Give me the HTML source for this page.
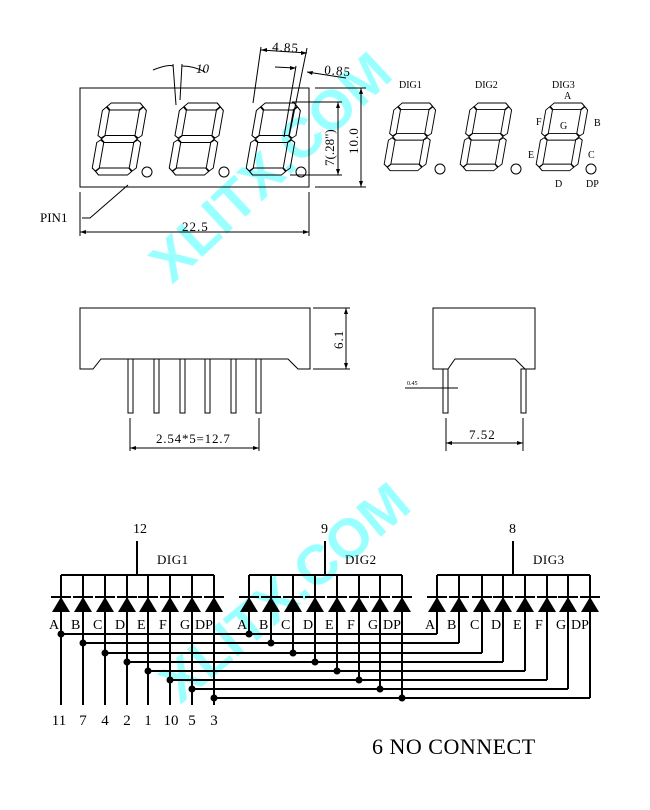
<!DOCTYPE html>
<html><head><meta charset="utf-8"><style>
html,body{margin:0;padding:0;background:#fff;}
svg{display:block;}
text{font-family:"Liberation Serif",serif;fill:#000;}
</style></head><body>
<svg width="650" height="810" viewBox="0 0 650 810" xmlns="http://www.w3.org/2000/svg">
<defs>
<g id="dg" fill="none" stroke="#000" stroke-width="1">
<polygon points="4,3.5 7.5,0 36.5,0 40,3.5 36.5,7 7.5,7"/>
<polygon points="4,36 7.5,32.5 36.5,32.5 40,36 36.5,39.5 7.5,39.5"/>
<polygon points="4,68.5 7.5,65 36.5,65 40,68.5 36.5,72 7.5,72"/>
<polygon points="3.5,4 7,7.5 7,32.5 3.5,35 0,32.5 0,7.5"/>
<polygon points="40.5,4 44,7.5 44,32.5 40.5,35 37,32.5 37,7.5"/>
<polygon points="3.5,37 7,39.5 7,65 3.5,68 0,65 0,39.5"/>
<polygon points="40.5,37 44,39.5 44,65 40.5,68 37,65 37,39.5"/>
</g>
<g id="dig"><g transform="translate(12.7,0) skewX(-10)"><use href="#dg"/></g></g>
</defs>

<!-- watermarks -->
<g opacity="0.4">
<text x="0" y="0" transform="translate(172,285) rotate(-43)" style="fill:#0ff;font-family:'Liberation Sans',sans-serif;font-weight:bold;font-size:56px">XLITX.COM</text>
<text x="0" y="0" transform="translate(180,705) rotate(-40)" style="fill:#0ff;font-family:'Liberation Sans',sans-serif;font-weight:bold;font-size:56px">XLITX.COM</text>
</g>

<!-- top view -->
<g stroke="#000" fill="none" stroke-width="1">
<rect x="80" y="88" width="229" height="99"/>
<g transform="translate(91,103)"><use href="#dig"/></g>
<g transform="translate(168,103)"><use href="#dig"/></g>
<g transform="translate(245,103)"><use href="#dig"/></g>
<circle cx="147" cy="172" r="5"/><circle cx="224" cy="172" r="5"/><circle cx="301" cy="172" r="5"/>
<line x1="80" y1="192" x2="80" y2="236"/><line x1="309" y1="192" x2="309" y2="236"/>
<line x1="80" y1="232" x2="309" y2="232"/>
<polyline points="82,218 90,218 128,185"/>
<line x1="315" y1="88" x2="366" y2="88"/><line x1="315" y1="187" x2="366" y2="187"/>
<line x1="361" y1="88" x2="361" y2="187"/>
<line x1="292" y1="102" x2="342" y2="102"/><line x1="290" y1="175" x2="342" y2="175"/>
<line x1="338" y1="102" x2="338" y2="175"/>
<line x1="253" y1="103" x2="261" y2="47"/><line x1="307" y1="48" x2="289" y2="137"/>
<line x1="261" y1="50" x2="307" y2="53"/>
<line x1="275" y1="67" x2="296" y2="68"/><line x1="296" y1="66" x2="284" y2="137"/>
<line x1="307" y1="72" x2="346" y2="78"/>
<line x1="173" y1="64" x2="176" y2="105"/><line x1="182" y1="64" x2="180" y2="100"/>
<path d="M153,70 Q168,64 173,66"/><path d="M182,66 Q194,66 205,72"/>
</g>
<g fill="#000">
<polygon points="80,232 86,230 86,234"/><polygon points="309,232 303,230 303,234"/>
<polygon points="361,88 359,94 363,94"/><polygon points="361,187 359,181 363,181"/>
<polygon points="338,102 336,108 340,108"/><polygon points="338,175 336,169 340,169"/>
<polygon points="261,50 267,48 267,52"/><polygon points="307,53 301,51 301,55"/>
<polygon points="296,68 290,66 290,70"/><polygon points="307,72 313,71 312,75"/>
</g>
<text x="182" y="231" font-size="13" letter-spacing="1">22.5</text>
<text x="40" y="222" font-size="13">PIN1</text>
<text x="272" y="51" font-size="13" letter-spacing="1" transform="rotate(3 272 51)">4.85</text>
<text x="324" y="74" font-size="13" letter-spacing="1" transform="rotate(5 324 74)">0.85</text>
<text x="196" y="73" font-size="13" font-style="italic">10</text>
<text font-size="13" letter-spacing="1" transform="translate(358,154) rotate(-90)">10.0</text>
<text font-size="13" transform="translate(334,166) rotate(-90)">7(.28")</text>

<!-- right digits -->
<g transform="translate(383,103) scale(0.95,0.94)"><use href="#dig"/></g>
<g transform="translate(459,103) scale(0.95,0.94)"><use href="#dig"/></g>
<g transform="translate(535,103) scale(0.95,0.94)"><use href="#dig"/></g>
<g stroke="#000" fill="none"><circle cx="440" cy="169" r="5"/><circle cx="516" cy="169" r="5"/><circle cx="591" cy="169" r="5"/></g>
<g font-size="10">
<text x="399" y="88">DIG1</text><text x="475" y="88">DIG2</text><text x="552" y="88">DIG3</text>
<text x="564" y="99">A</text><text x="594" y="126">B</text><text x="536" y="125">F</text><text x="560" y="129">G</text>
<text x="528" y="158">E</text><text x="588" y="158">C</text><text x="555" y="187">D</text><text x="586" y="187">DP</text>
</g>

<!-- side view -->
<g stroke="#000" fill="none" stroke-width="1">
<path d="M80,308 H310 V369 H298 L288,359 H101 L93,369 H80 Z"/>
<rect x="128" y="359" width="5" height="54"/><rect x="154" y="359" width="5" height="54"/>
<rect x="180" y="359" width="5" height="54"/><rect x="205" y="359" width="5" height="54"/>
<rect x="231" y="359" width="5" height="54"/><rect x="256" y="359" width="5" height="54"/>
<line x1="313" y1="308" x2="350" y2="308"/><line x1="313" y1="369" x2="350" y2="369"/>
<line x1="346" y1="308" x2="346" y2="369"/>
<line x1="130" y1="418" x2="130" y2="451"/><line x1="259" y1="418" x2="259" y2="451"/>
<line x1="130" y1="448" x2="259" y2="448"/>
<path d="M433,308 H535 V369 H525 L515,359 H455 L448,369 H433 Z"/>
<rect x="443" y="369" width="5" height="44"/><rect x="521" y="369" width="5" height="44"/>
<line x1="405" y1="388" x2="458" y2="388"/>
<line x1="446" y1="418" x2="446" y2="451"/><line x1="523" y1="418" x2="523" y2="451"/>
<line x1="446" y1="443" x2="523" y2="443"/>
</g>
<g fill="#000">
<polygon points="346,308 344,314 348,314"/><polygon points="346,369 344,363 348,363"/>
<polygon points="130,448 136,446 136,450"/><polygon points="259,448 253,446 253,450"/>
<polygon points="446,443 452,441 452,445"/><polygon points="523,443 517,441 517,445"/>
</g>
<text font-size="13" letter-spacing="1" transform="translate(343,349) rotate(-90)">6.1</text>
<text x="156" y="443" font-size="13" letter-spacing="0.8">2.54*5=12.7</text>
<text x="469" y="439" font-size="13" letter-spacing="1">7.52</text>
<text x="407" y="385" font-size="6">0.45</text>

<!-- schematic -->
<g stroke="#000" stroke-width="2" fill="none">
<line x1="137" y1="541" x2="137" y2="575"/><line x1="325" y1="541" x2="325" y2="575"/><line x1="513" y1="541" x2="513" y2="575"/>
<line x1="61" y1="575" x2="214" y2="575"/><line x1="249" y1="575" x2="402" y2="575"/><line x1="437" y1="575" x2="590" y2="575"/>
<path d="M61,575V705M83,575V705M105,575V705M127,575V705M148,575V705M170,575V705M192,575V705M214,575V705"/>
<path d="M249,575V634M271,575V643M293,575V653M315,575V662M337,575V671M359,575V680M380,575V689M402,575V698"/>
<path d="M437,575V634M459,575V643M482,575V653M503,575V662M525,575V671M547,575V680M568,575V689M590,575V698"/>
<path d="M61,634H437M83,643H459M105,653H482M127,662H503M148,671H525M170,680H547M192,689H568M214,698H590"/>
<path d="M51,597H71M73,597H93M95,597H115M117,597H137M138,597H158M160,597H180M182,597H202M204,597H224"/>
<path d="M239,597H259M261,597H281M283,597H303M305,597H325M327,597H347M349,597H369M370,597H390M392,597H412"/>
<path d="M427,597H447M449,597H469M472,597H492M493,597H513M515,597H535M537,597H557M558,597H578M580,597H600"/>
</g>
<g fill="#000">
<polygon points="61,597 52,612 70,612"/><polygon points="83,597 74,612 92,612"/><polygon points="105,597 96,612 114,612"/><polygon points="127,597 118,612 136,612"/><polygon points="148,597 139,612 157,612"/><polygon points="170,597 161,612 179,612"/><polygon points="192,597 183,612 201,612"/><polygon points="214,597 205,612 223,612"/>
<polygon points="249,597 240,612 258,612"/><polygon points="271,597 262,612 280,612"/><polygon points="293,597 284,612 302,612"/><polygon points="315,597 306,612 324,612"/><polygon points="337,597 328,612 346,612"/><polygon points="359,597 350,612 368,612"/><polygon points="380,597 371,612 389,612"/><polygon points="402,597 393,612 411,612"/>
<polygon points="437,597 428,612 446,612"/><polygon points="459,597 450,612 468,612"/><polygon points="482,597 473,612 491,612"/><polygon points="503,597 494,612 512,612"/><polygon points="525,597 516,612 534,612"/><polygon points="547,597 538,612 556,612"/><polygon points="568,597 559,612 577,612"/><polygon points="590,597 581,612 599,612"/>
<circle cx="61" cy="634" r="3.5"/><circle cx="83" cy="643" r="3.5"/><circle cx="105" cy="653" r="3.5"/><circle cx="127" cy="662" r="3.5"/><circle cx="148" cy="671" r="3.5"/><circle cx="170" cy="680" r="3.5"/><circle cx="192" cy="689" r="3.5"/><circle cx="214" cy="698" r="3.5"/>
<circle cx="249" cy="634" r="3.5"/><circle cx="271" cy="643" r="3.5"/><circle cx="293" cy="653" r="3.5"/><circle cx="315" cy="662" r="3.5"/><circle cx="337" cy="671" r="3.5"/><circle cx="359" cy="680" r="3.5"/><circle cx="380" cy="689" r="3.5"/><circle cx="402" cy="698" r="3.5"/>
</g>
<g font-size="14">
<text x="133" y="533">12</text><text x="321" y="533">9</text><text x="509" y="533">8</text>
</g>
<g font-size="13" letter-spacing="0.5">
<text x="157" y="564">DIG1</text><text x="345" y="564">DIG2</text><text x="533" y="564">DIG3</text>
</g>
<g font-size="14">
<text x="49" y="629">A</text><text x="71" y="629">B</text><text x="93" y="629">C</text><text x="115" y="629">D</text><text x="137" y="629">E</text><text x="159" y="629">F</text><text x="180" y="629">G</text><text x="195" y="629">DP</text>
<text x="237" y="629">A</text><text x="259" y="629">B</text><text x="281" y="629">C</text><text x="303" y="629">D</text><text x="325" y="629">E</text><text x="347" y="629">F</text><text x="368" y="629">G</text><text x="383" y="629">DP</text>
<text x="425" y="629">A</text><text x="447" y="629">B</text><text x="470" y="629">C</text><text x="491" y="629">D</text><text x="513" y="629">E</text><text x="535" y="629">F</text><text x="556" y="629">G</text><text x="571" y="629">DP</text>
</g>
<g font-size="15" text-anchor="middle">
<text x="59" y="725">11</text><text x="83" y="725">7</text><text x="105" y="725">4</text><text x="127" y="725">2</text><text x="148" y="725">1</text><text x="171" y="725">10</text><text x="192" y="725">5</text><text x="214" y="725">3</text>
</g>
<text x="372" y="754" font-size="22" letter-spacing="0.5">6 NO CONNECT</text>
</svg>
</body></html>
